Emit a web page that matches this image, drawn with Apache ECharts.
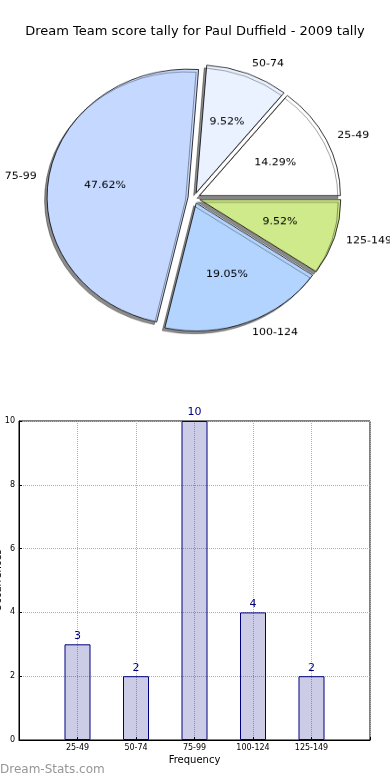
<!DOCTYPE html>
<html>
<head>
<meta charset="utf-8">
<script src="https://cdn.jsdelivr.net/npm/echarts@6/dist/echarts.min.js"></script>
<style>
  html, body { margin: 0; padding: 0; background: #fff; }
  #bar { position: absolute; left: 0; top: 0; width: 390px; height: 780px; }
  #pie { position: absolute; left: 0; top: 0; width: 390px; height: 420px;
         transform: scaleY(0.908); transform-origin: 0 0; }
</style>
</head>
<body>
<div id="bar"></div>
<div id="pie"></div>
<script>
// ---- data ----
const categories = ['25-49', '50-74', '75-99', '100-124', '125-149'];
const counts = [3, 2, 10, 4, 2];
const yTicks = [0, 2, 4, 6, 8, 10];
const titleText = 'Dream Team score tally for Paul Duffield - 2009 tally';
const xAxisTitle = 'Frequency';
const yAxisTitle = 'Occurrences';
const watermark = 'Dream-Stats.com';
// palette (styles)
const sliceColors = ['#ffffff', '#eaf1ff', '#c5d8ff', '#b3d4ff', '#cfea8a'];

const FONT = 'DejaVu Sans';

// ---- bar chart + title ----
const bar = echarts.init(document.getElementById('bar'), null, { renderer: 'canvas' });
bar.setOption({
  animation: false,
  backgroundColor: '#fff',
  title: {
    text: titleText, left: 'center', top: 20,
    textStyle: { fontFamily: FONT, fontSize: 13, fontWeight: 'normal', color: '#000' }
  },
  graphic: [{
    type: 'text', left: 0, top: 764,
    style: { text: watermark, font: '12px "DejaVu Sans"', fill: '#969696' }
  }],
  grid: { left: 19, right: 20, top: 421, bottom: 40, show: true, borderColor: '#000', borderWidth: 1,
          containLabel: false, outerBoundsMode: 'none' },
  xAxis: {
    type: 'value', min: 0, max: categories.length + 1, interval: 1,
    name: xAxisTitle, nameLocation: 'middle', nameGap: 15,
    nameTextStyle: { fontFamily: FONT, fontSize: 10, color: '#000' },
    axisLine: { show: true, lineStyle: { color: '#000' } },
    axisTick: { show: true, inside: true, length: 3, lineStyle: { color: '#000' } },
    axisLabel: {
      fontFamily: FONT, fontSize: 8, color: '#000', margin: 4,
      formatter: v => (v >= 1 && v <= categories.length) ? categories[v - 1] : ''
    },
    splitLine: { show: true, lineStyle: { type: 'dotted', color: '#b0b0b0', width: 1 } }
  },
  yAxis: {
    type: 'value', min: yTicks[0], max: yTicks[yTicks.length - 1], interval: yTicks[1] - yTicks[0],
    name: yAxisTitle, nameLocation: 'middle', nameGap: 16, nameRotate: 90, nameMoveOverlap: false,
    nameTextStyle: { fontFamily: FONT, fontSize: 10, color: '#000' },
    axisLine: { show: true, lineStyle: { color: '#000' } },
    axisTick: { show: true, inside: true, length: 3, lineStyle: { color: '#000' } },
    axisLabel: { fontFamily: FONT, fontSize: 8, color: '#000', margin: 4 },
    splitLine: { show: true, lineStyle: { type: 'dotted', color: '#b0b0b0', width: 1 } }
  },
  series: [{
    type: 'bar',
    barWidth: 26,
    data: counts.map((v, i) => [i + 1, v]),
    itemStyle: { color: 'rgba(0,0,128,0.2)', borderColor: '#000080', borderWidth: 1 },
    label: {
      show: true, position: 'top', distance: 3,
      fontFamily: FONT, fontSize: 11, color: '#000080',
      formatter: p => p.value[1]
    },
    emphasis: { disabled: true }
  }]
});

// ---- pie chart (vertically squashed to an ellipse like the original) ----
const pie = echarts.init(document.getElementById('pie'), null, { renderer: 'canvas' });
const pieData = categories.map((c, i) => ({
  name: c, value: counts[i], selected: true,
  itemStyle: { color: sliceColors[i] }
}));
const pctData = categories.map((c, i) => ({ name: c, value: counts[i], selected: true }));
const R = 141;
const CENTER = [194, 218];
pie.setOption({
  animation: false,
  series: [{
    type: 'pie',
    center: CENTER,
    radius: [0, R],
    startAngle: 0,
    clockwise: false,
    selectedMode: 'multiple',
    selectedOffset: 6,
    avoidLabelOverlap: false,
    percentPrecision: 2,
    data: pieData,
    itemStyle: {
      borderColor: '#000', borderWidth: 0.8,
      shadowColor: 'rgba(0,0,0,0.45)', shadowBlur: 0.5, shadowOffsetX: -2.5, shadowOffsetY: 3
    },
    label: {
      show: true, position: 'outside', distanceToLabelLine: 0,
      fontFamily: FONT, fontSize: 11, color: '#000', formatter: '{b}'
    },
    labelLine: { show: false, length: 12, length2: 0 },
    emphasis: { disabled: true }
  }, {
    type: 'pie',
    center: CENTER,
    radius: [0, R * 1.15],
    startAngle: 0,
    clockwise: false,
    selectedMode: 'multiple',
    selectedOffset: 6,
    silent: true,
    percentPrecision: 2,
    data: pctData,
    itemStyle: { color: 'rgba(0,0,0,0)', borderWidth: 0 },
    label: {
      show: true, position: 'inside',
      fontFamily: FONT, fontSize: 11, color: '#000', formatter: '{d}%'
    },
    labelLine: { show: false },
    emphasis: { disabled: true }
  }]
});
</script>
</body>
</html>
